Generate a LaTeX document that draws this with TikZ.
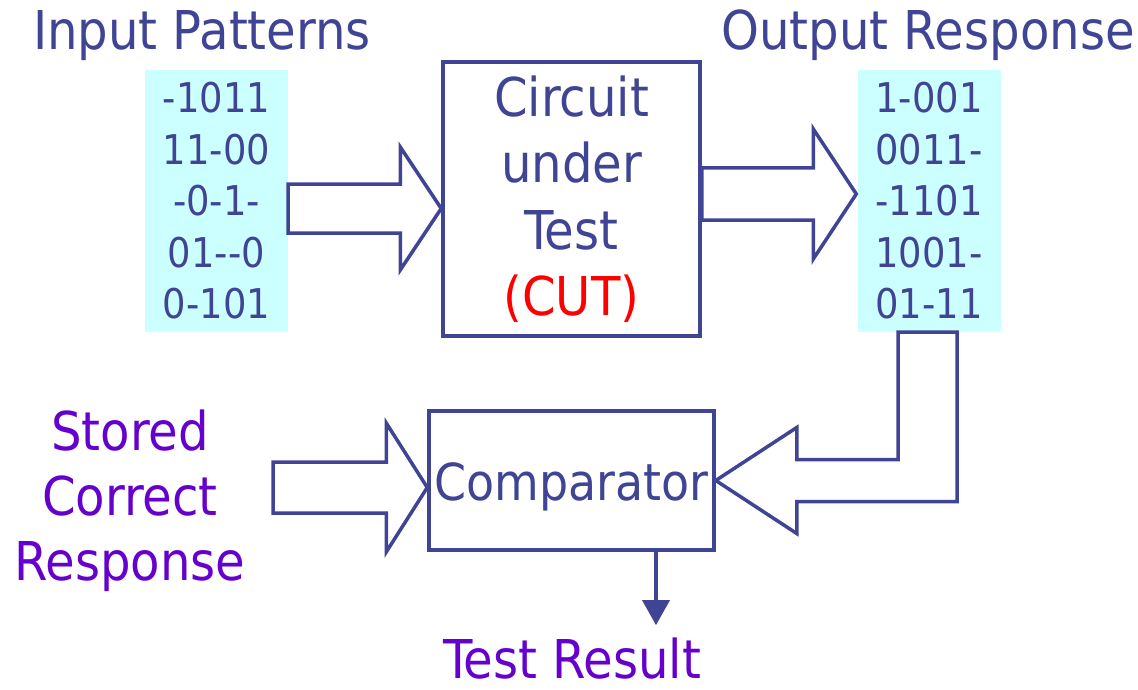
\documentclass[tikz,border=0pt]{standalone}
\usepackage{fontspec}
\setmainfont{DejaVu Sans Condensed}
\usetikzlibrary{calc,arrows.meta}

\definecolor{navy}{RGB}{64,68,148}
\definecolor{respviolet}{RGB}{102,0,204}
\definecolor{patcyan}{RGB}{204,255,255}
\definecolor{cutred}{RGB}{255,0,0}

% wide hollow arrow: tail, tip, shaft half width, head half width, head length
\newcommand{\blockarrow}[5]{%
  \draw[bigarrow] ($(#1)+(0,-#3)$) -- ($(#2)+(-#5,-#3)$) -- ($(#2)+(-#5,-#4)$)
    -- (#2) -- ($(#2)+(-#5,#4)$) -- ($(#2)+(-#5,#3)$) -- ($(#1)+(0,#3)$) -- cycle;}

\begin{document}
\begin{tikzpicture}[x=1pt, y=-1pt, every node/.style={text=navy},
  big/.style={font=\fontsize{53.5}{66.5}\selectfont},
  box/.style={draw=navy, line width=3.5pt, inner sep=0pt},
  patbox/.style={fill=patcyan, inner sep=0pt, minimum width=143pt,
    minimum height=262pt, align=center, font=\fontsize{41}{51.5}\selectfont},
  bigarrow/.style={draw=navy, fill=white, line width=3.5pt, line join=miter},
  conn/.style={draw=navy, line width=3.5pt, -{Triangle[width=27pt,length=25pt]}}]

  \useasboundingbox (0,0) rectangle (1138,690);

  % Pattern columns
  \node[patbox] (inpat) at (216.5,201) {-1011\\11-00\\-0-1-\\01-\kern0pt-0\\0-101};
  \node[patbox] (outpat) at (929,201) {1-001\\0011-\\-1101\\1001-\\01-11};

  % Blocks
  \node[box, big, align=center, minimum width=257pt, minimum height=274pt]
    (cut) at (571.5,199) {Circuit\\under\\Test\\\textcolor{cutred}{(CUT)}};
  \node[box, font=\fontsize{51}{60}\selectfont, minimum width=285pt,
    minimum height=139pt, text height=39pt, text depth=0pt]
    (comp) at (571.5,480.5) {Comparator};

  % Labels
  \node[big, anchor=base] (inlbl) at (202,50) {Input Patterns};
  \node[big, anchor=base] (outlbl) at (928,50) {Output Response};
  \node[align=center, text=respviolet, font=\fontsize{53.5}{65}\selectfont]
    (stored) at (130,501) {Stored\\Correct\\Response};
  \node[big, anchor=base, inner sep=0pt, text=respviolet]
    (result) at (572,678) {Test Result};

  % Wide arrows
  \coordinate (inend) at ($(inpat.east)+(0,7.5)$);
  \coordinate (cutin) at ($(cut.west)+(0,9.5)$);
  \blockarrow{inend}{cutin}{24.5}{61.5}{41}
  \coordinate (cutout) at ($(cut.east)+(0,-5)$);
  \coordinate (outin) at ($(outpat.west)+(-1,-7)$);
  \blockarrow{cutout}{outin}{26}{65}{43}
  \coordinate (storedout) at (273,487.5);
  \coordinate (compin) at ($(comp.west)+(0,7)$);
  \blockarrow{storedout}{compin}{25.5}{64.5}{41}

  % Response fed back to the comparator
  \draw[bigarrow] ($(outpat.south)+(-31,0)$) |- ($(comp.east)+(81,-21)$)
    -- ($(comp.east)+(81,-53)$) -- (comp.east) -- ($(comp.east)+(81,53)$)
    -- ($(comp.east)+(81,21)$) -| ($(outpat.south)+(28,0)$) -- cycle;

  % Result
  \coordinate (resout) at ($(comp.south)+(84.5,0)$);
  \draw[conn, shorten >=12pt] (resout) -- (resout |- result.north);
\end{tikzpicture}
\end{document}
